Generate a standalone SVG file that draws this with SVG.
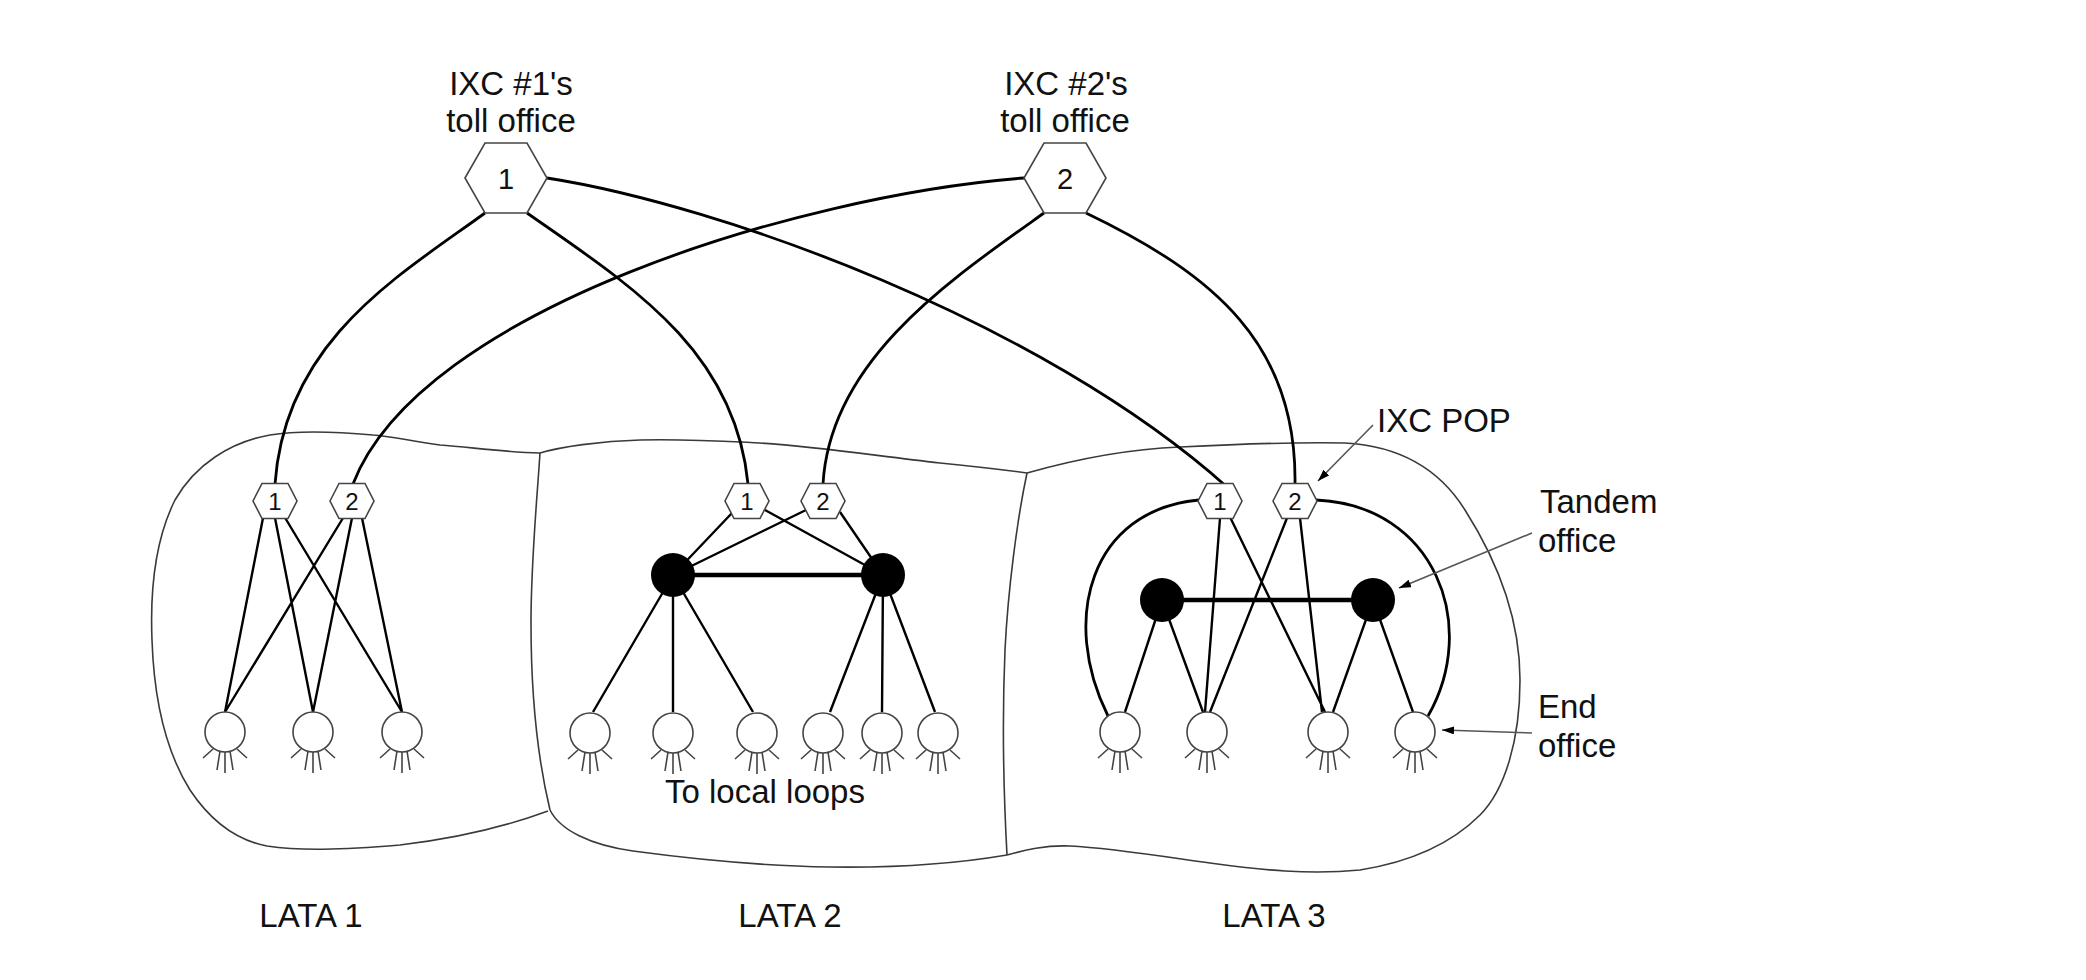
<svg xmlns="http://www.w3.org/2000/svg" xmlns:xlink="http://www.w3.org/1999/xlink" width="2086" height="980" viewBox="0 0 2086 980">
<style>
.bnd{fill:none;stroke:#3a3a3a;stroke-width:1.6}
.trunk{fill:none;stroke:#000;stroke-width:2.8}
.ln{fill:none;stroke:#000;stroke-width:2.4}
.thick{fill:none;stroke:#000;stroke-width:4.5}
.hex{fill:#fff;stroke:#444;stroke-width:1.6}
.eoc{fill:#fff;stroke:#444;stroke-width:1.6}
.leg{stroke:#444;stroke-width:1.6;fill:none}
.tan{fill:#000}
.lbl{font-family:"Liberation Sans",Arial,sans-serif;font-size:33px;fill:#111}
.num{font-family:"Liberation Sans",Arial,sans-serif;fill:#111;text-anchor:middle}
.ptr{fill:none;stroke:#555;stroke-width:1.6}
</style>
<defs>
<marker id="ah" viewBox="0 0 12 8" refX="12" refY="4" markerWidth="12" markerHeight="8" markerUnits="userSpaceOnUse" orient="auto">
<path d="M0,0 L12,4 L0,8 z" fill="#000"/>
</marker>
<g id="eo">
<path class="leg" d="M-12,17 L-22,26 M-5,19 L-8,38 M0,20 L0,41 M5,19 L8,38 M12,17 L22,26"/>
<circle class="eoc" cx="0" cy="0" r="20"/>
</g>
<polygon id="shex" class="hex" points="-22,0 -13,-17.5 13,-17.5 22,0 13,17.5 -13,17.5"/>
</defs>

<!-- LATA boundaries -->
<g id="boundaries">
<path class="bnd" d="M540,453 C500,452 470,447 440,445 C410,441 390,436 373,435 C340,432 300,430 270,435 C230,442 195,465 175,500 C155,540 150,590 152,640 C154,700 165,750 190,790 C210,820 235,840 267,846 C300,851 340,850 400,845 C460,838 510,825 548,811"/>
<path class="bnd" d="M540,453 C537,500 531,560 531,623 C531,700 538,760 550,810"/>
<path class="bnd" d="M540,453 C560,447 600,441 640,440 C690,439 720,441 760,443 C820,447 870,455 940,463 C980,467 1005,470 1027,473"/>
<path class="bnd" d="M550,810 C560,830 590,845 633,851 C700,860 760,866 830,867 C900,868 960,863 1007,855"/>
<path class="bnd" d="M1027,473 C1017,520 1008,590 1005,650 C1002,720 1004,800 1007,855"/>
<path class="bnd" d="M1027,473 C1080,458 1130,449 1180,447 C1240,444 1300,442 1345,443 C1400,446 1440,470 1465,510 C1500,565 1520,620 1520,680 C1520,740 1505,790 1480,815 C1450,845 1410,862 1360,870 C1310,875 1260,870 1210,863 C1160,856 1110,848 1070,846 C1045,845 1025,850 1007,855"/>
</g>

<!-- connectors -->
<g id="connectors">
<!-- trunks from toll offices -->
<path class="trunk" d="M485,213 C400,275 285,340 275,484"/>
<path class="trunk" d="M527,213 C630,285 735,350 748,484"/>
<path class="trunk" d="M547,178 C720,205 1040,320 1227,487"/>
<path class="trunk" d="M1024,178 C800,195 420,310 353,484"/>
<path class="trunk" d="M1044,213 C950,280 830,360 823,484"/>
<path class="trunk" d="M1086,213 C1215,275 1297,345 1295,484"/>
<!-- LATA 1 -->
<path class="ln" d="M263,518 L225,712 M275,518 L313,712 M284,516 L402,712 M343,518 L225,712 M352,518 L313,712 M362,518 L402,712"/>
<!-- LATA 2 -->
<path class="ln" d="M732,513 L673,575 M765,510 L883,575 M806,510 L673,575 M840,512 L883,575"/>
<path class="ln" d="M673,575 L593,712 M673,575 L673,712 M673,575 L753,712 M883,575 L830,712 M883,575 L882,712 M883,575 L935,712"/>
<path class="thick" d="M673,575 L883,575"/>
<!-- LATA 3 -->
<path class="ln" d="M1162,600 L1125,712 M1162,600 L1203,712 M1373,600 L1333,712 M1373,600 L1413,712"/>
<path class="ln" d="M1220,518 L1205,712 M1230,517 L1325,712 M1287,518 L1210,712 M1300,518 L1322,712"/>
<path class="thick" d="M1162,600 L1373,600"/>
<path class="trunk" d="M1199,500 C1090,510 1060,620 1108,716"/>
<path class="trunk" d="M1316,500 C1435,505 1480,625 1428,716"/>
</g>

<!-- toll offices -->
<g id="toll1">
<polygon class="hex" points="465,178 485,143 527,143 547,178 527,213 485,213"/>
<text class="num" x="506" y="189" font-size="29">1</text>
</g>
<g id="toll2">
<polygon class="hex" points="1024,178 1044,143 1086,143 1106,178 1086,213 1044,213"/>
<text class="num" x="1065" y="189" font-size="29">2</text>
</g>

<!-- POPs -->
<g id="lata1-pop1"><use xlink:href="#shex" href="#shex" x="275" y="501"/><text class="num" x="275" y="510" font-size="24">1</text></g>
<g id="lata1-pop2"><use xlink:href="#shex" href="#shex" x="352" y="501"/><text class="num" x="352" y="510" font-size="24">2</text></g>
<g id="lata2-pop1"><use xlink:href="#shex" href="#shex" x="747" y="501"/><text class="num" x="747" y="510" font-size="24">1</text></g>
<g id="lata2-pop2"><use xlink:href="#shex" href="#shex" x="823" y="501"/><text class="num" x="823" y="510" font-size="24">2</text></g>
<g id="lata3-pop1"><use xlink:href="#shex" href="#shex" x="1220" y="501"/><text class="num" x="1220" y="510" font-size="24">1</text></g>
<g id="lata3-pop2"><use xlink:href="#shex" href="#shex" x="1295" y="501"/><text class="num" x="1295" y="510" font-size="24">2</text></g>

<!-- tandem offices -->
<g id="lata2-tandem1"><circle class="tan" cx="673" cy="575" r="22"/></g>
<g id="lata2-tandem2"><circle class="tan" cx="883" cy="575" r="22"/></g>
<g id="lata3-tandem1"><circle class="tan" cx="1162" cy="600" r="22"/></g>
<g id="lata3-tandem2"><circle class="tan" cx="1373" cy="600" r="22"/></g>

<!-- end offices -->
<g id="lata1-eo1"><use xlink:href="#eo" href="#eo" x="225" y="732"/></g>
<g id="lata1-eo2"><use xlink:href="#eo" href="#eo" x="313" y="732"/></g>
<g id="lata1-eo3"><use xlink:href="#eo" href="#eo" x="402" y="732"/></g>
<g id="lata2-eo1"><use xlink:href="#eo" href="#eo" x="590" y="733"/></g>
<g id="lata2-eo2"><use xlink:href="#eo" href="#eo" x="673" y="733"/></g>
<g id="lata2-eo3"><use xlink:href="#eo" href="#eo" x="757" y="733"/></g>
<g id="lata2-eo4"><use xlink:href="#eo" href="#eo" x="823" y="733"/></g>
<g id="lata2-eo5"><use xlink:href="#eo" href="#eo" x="882" y="733"/></g>
<g id="lata2-eo6"><use xlink:href="#eo" href="#eo" x="938" y="733"/></g>
<g id="lata3-eo1"><use xlink:href="#eo" href="#eo" x="1120" y="732"/></g>
<g id="lata3-eo2"><use xlink:href="#eo" href="#eo" x="1207" y="732"/></g>
<g id="lata3-eo3"><use xlink:href="#eo" href="#eo" x="1328" y="732"/></g>
<g id="lata3-eo4"><use xlink:href="#eo" href="#eo" x="1415" y="732"/></g>

<!-- pointer arrows -->
<g id="pointers">
<path class="ptr" d="M1373,425 L1318,481" marker-end="url(#ah)"/>
<path class="ptr" d="M1532,533 L1399,588" marker-end="url(#ah)"/>
<path class="ptr" d="M1532,733 L1442,730" marker-end="url(#ah)"/>
</g>

<!-- labels -->
<g id="labels">
<text class="lbl" x="511" y="95" text-anchor="middle">IXC #1's</text>
<text class="lbl" x="511" y="132" text-anchor="middle">toll office</text>
<text class="lbl" x="1066" y="95" text-anchor="middle">IXC #2's</text>
<text class="lbl" x="1065" y="132" text-anchor="middle">toll office</text>
<text class="lbl" x="1377" y="432">IXC POP</text>
<text class="lbl" x="1540" y="513">Tandem</text>
<text class="lbl" x="1538" y="552">office</text>
<text class="lbl" x="1538" y="718">End</text>
<text class="lbl" x="1538" y="757">office</text>
<text class="lbl" x="765" y="803" text-anchor="middle">To local loops</text>
<text class="lbl" x="311" y="927" text-anchor="middle">LATA 1</text>
<text class="lbl" x="790" y="927" text-anchor="middle">LATA 2</text>
<text class="lbl" x="1274" y="927" text-anchor="middle">LATA 3</text>
</g>
</svg>
